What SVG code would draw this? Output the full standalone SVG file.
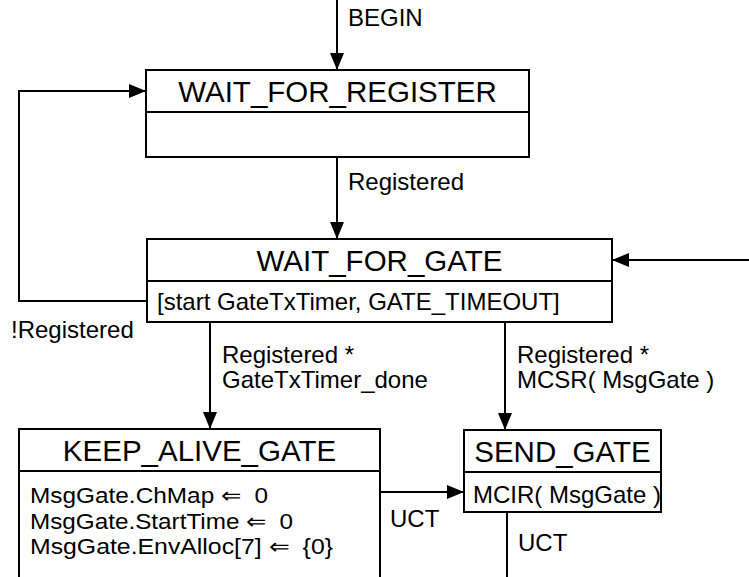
<svg xmlns="http://www.w3.org/2000/svg" width="749" height="577" viewBox="0 0 749 577">
<defs>
<marker id="ah" markerWidth="17" markerHeight="14" refX="17" refY="7" orient="auto" markerUnits="userSpaceOnUse">
<path d="M0,0 L17,7 L0,14 Z" fill="#000"/>
</marker>
<style>
.box{fill:#fff;stroke:#000;stroke-width:2}
.sep{stroke:#000;stroke-width:2}
.ln{fill:none;stroke:#000;stroke-width:2}
.t{font-family:"Liberation Sans",Arial,sans-serif;font-size:29.5px;fill:#000;text-anchor:middle}
.s{font-family:"Liberation Sans",Arial,sans-serif;font-size:24px;fill:#000}
.c{font-family:"Liberation Sans",Arial,sans-serif;font-size:22px;fill:#000}
</style>
</defs>
<rect width="749" height="577" fill="#fff"/>
<g id="connectors">
<path class="ln" d="M337,0 L337,70" marker-end="url(#ah)"/>
<text class="s" x="348" y="25.5">BEGIN</text>
<path class="ln" d="M337,157 L337,239" marker-end="url(#ah)"/>
<text class="s" x="348" y="189.5">Registered</text>
<path class="ln" d="M147,301 L19,301 L19,91 L146,91" marker-end="url(#ah)"/>
<text class="s" x="11" y="338">!Registered</text>
<path class="ln" d="M210,322 L210,429" marker-end="url(#ah)"/>
<text class="s" x="222" y="363">Registered *</text>
<text class="s" x="222" y="388">GateTxTimer_done</text>
<path class="ln" d="M505,322 L505,430" marker-end="url(#ah)"/>
<text class="s" x="517" y="363">Registered *</text>
<text class="s" x="517" y="388">MCSR( MsgGate )</text>
<path class="ln" d="M380,492 L464,492" marker-end="url(#ah)"/>
<text class="s" x="390" y="527">UCT</text>
<path class="ln" d="M507,512 L507,600 L770,600 L770,260 L612,260" marker-end="url(#ah)"/>
<text class="s" x="518" y="551">UCT</text>
</g>
<g id="WAIT_FOR_REGISTER">
<rect class="box" x="146" y="70" width="383" height="87"/>
<line class="sep" x1="146" y1="112" x2="529" y2="112"/>
<text class="t" x="337.5" y="101.5">WAIT_FOR_REGISTER</text>
</g>
<g id="WAIT_FOR_GATE">
<rect class="box" x="147" y="239" width="465" height="83"/>
<line class="sep" x1="147" y1="281" x2="612" y2="281"/>
<text class="t" x="379.5" y="270.5">WAIT_FOR_GATE</text>
<text class="s" x="157" y="310">[start GateTxTimer, GATE_TIMEOUT]</text>
</g>
<g id="KEEP_ALIVE_GATE">
<rect class="box" x="19" y="429" width="361" height="170"/>
<line class="sep" x1="19" y1="471" x2="380" y2="471"/>
<text class="t" x="199.5" y="460.5">KEEP_ALIVE_GATE</text>
<text class="c" x="30" y="503" textLength="238" lengthAdjust="spacingAndGlyphs">MsgGate.ChMap ⇐&#160; 0</text>
<text class="c" x="30" y="528.5" textLength="263" lengthAdjust="spacingAndGlyphs">MsgGate.StartTime ⇐&#160; 0</text>
<text class="c" x="30" y="554" textLength="303" lengthAdjust="spacingAndGlyphs">MsgGate.EnvAlloc[7] ⇐&#160; {0}</text>
</g>
<g id="SEND_GATE">
<rect class="box" x="464" y="430" width="197" height="82"/>
<line class="sep" x1="464" y1="472" x2="661" y2="472"/>
<text class="t" x="562.5" y="461.5">SEND_GATE</text>
<text class="s" x="473" y="503">MCIR( MsgGate )</text>
</g>
</svg>
